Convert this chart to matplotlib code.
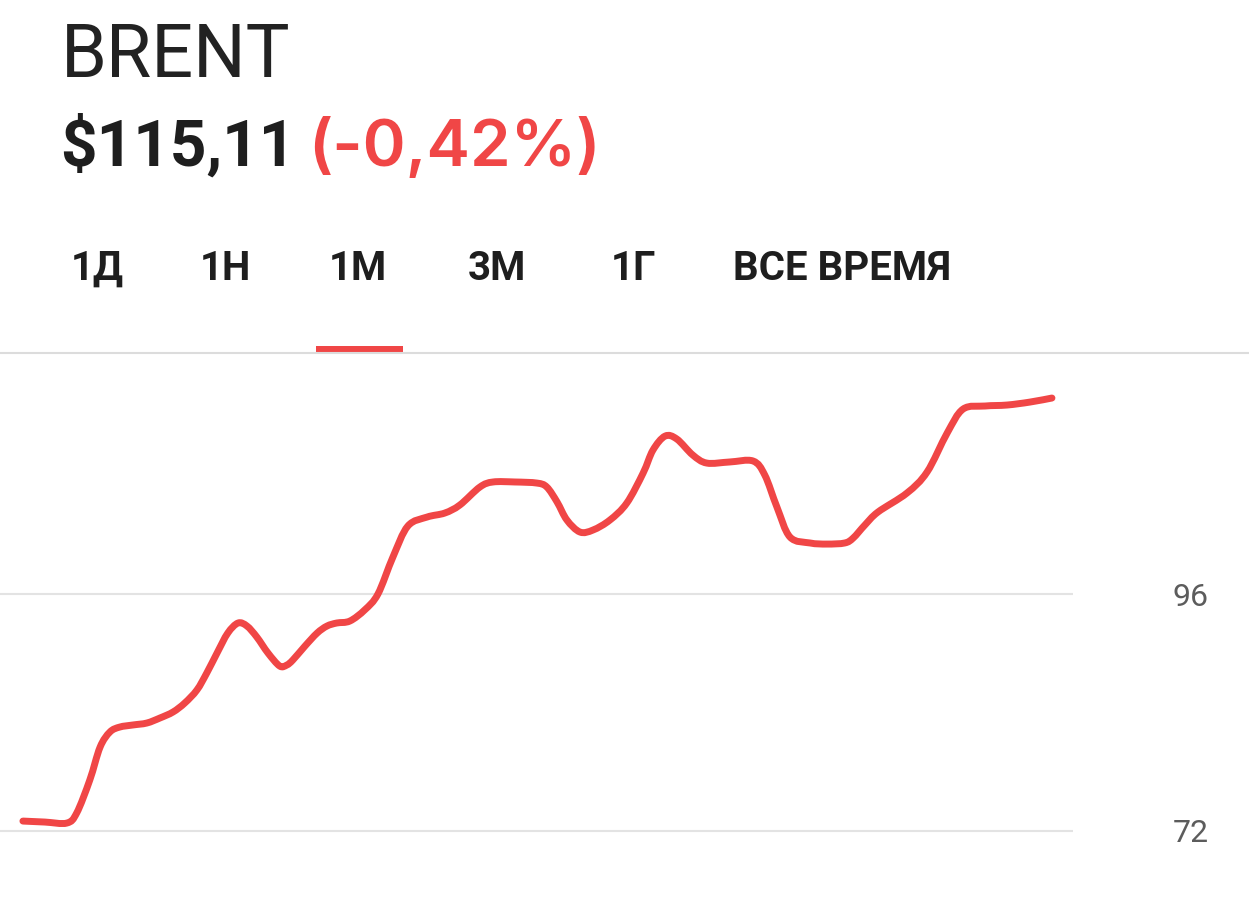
import matplotlib
matplotlib.use("Agg")
import matplotlib.pyplot as plt
from matplotlib.lines import Line2D
from matplotlib.patches import Rectangle, PathPatch
from matplotlib.path import Path

# brent price over one month
days = [0.00, 0.47, 0.94, 1.15, 1.43, 1.65, 1.86, 2.07, 2.35, 2.65, 2.93, 3.21,
        3.46, 3.72, 3.93, 4.15, 4.38, 4.60, 4.79, 5.00, 5.24, 5.49, 5.64, 5.77,
        6.03, 6.29, 6.50, 6.71, 6.99, 7.31, 7.59, 7.91, 8.23, 8.64,
        9.02, 9.34, 9.77, 10.05, 10.52, 10.99, 11.20, 11.42, 11.63, 11.91, 12.19,
        12.55, 12.91, 13.26, 13.47, 13.73, 13.98, 14.32, 14.62, 15.11, 15.61,
        15.86, 16.12, 16.40, 16.83, 17.19, 17.57, 17.75, 18.00, 18.28,
        18.90, 19.33, 19.76, 20.10, 20.57, 21.04, 21.53, 22.00]
price = [72.96, 72.86, 72.76, 73.78, 77.13, 80.47, 82.00, 82.50, 82.71, 82.91,
         83.42, 84.03, 84.94, 86.26, 87.98, 90.01, 92.04, 93.06, 92.75, 91.64,
         90.01, 88.69, 88.79, 89.30, 90.72, 92.04, 92.75, 93.06, 93.26, 94.40,
         96.00, 99.75, 102.90, 103.81, 104.22, 105.03, 106.86,
         107.37, 107.37, 107.26, 106.86, 105.34, 103.51, 102.29, 102.50, 103.51,
         105.23, 108.28, 110.61, 112.03, 111.73, 110.11, 109.29, 109.40, 109.50,
         108.08, 104.83, 101.78, 101.18, 101.07, 101.18, 101.68, 103.00,
         104.32, 106.25, 108.38, 112.34, 114.77, 115.08, 115.18, 115.48, 115.89]
y_ticks = [72, 96]

tabs = ["1Д", "1Н", "1М", "3М", "1Г", "ВСЕ ВРЕМЯ"]
tab_x = [97, 225, 358, 497, 634, 842]  # centres in px

RED = "#F04646"
W, H = 1249, 914

fig = plt.figure(figsize=(W / 100, H / 100), dpi=100)
fig.patch.set_facecolor("white")

def fx(px):
    return px / W

def fy(py):
    return 1 - py / H

def smooth_path(xs, ys):
    # catmull-rom through the points, handed to matplotlib as bezier segments
    verts = [(xs[0], ys[0])]
    codes = [Path.MOVETO]
    n = len(xs)
    for i in range(n - 1):
        x0, y0 = (xs[i - 1], ys[i - 1]) if i > 0 else (xs[i], ys[i])
        x1, y1 = xs[i], ys[i]
        x2, y2 = xs[i + 1], ys[i + 1]
        x3, y3 = (xs[i + 2], ys[i + 2]) if i + 2 < n else (x2, y2)
        verts += [(x1 + (x2 - x0) / 6, y1 + (y2 - y0) / 6),
                  (x2 - (x3 - x1) / 6, y2 - (y3 - y1) / 6),
                  (x2, y2)]
        codes += [Path.CURVE4] * 3
    return Path(verts, codes)

## header
fig.text(fx(61), fy(77), "BRENT", fontsize=53, family="Roboto", weight="normal",
         color="#222222", va="baseline")
fig.text(fx(60), fy(166), "$115,11", fontsize=46, family="Roboto", weight="bold",
         color="#1e1e1e", va="baseline")
fig.text(fx(308), fy(166), "(-0,42%)", fontsize=47, family="Inter", weight="semibold",
         color=RED, va="baseline")

## period tabs
for label, cx in zip(tabs, tab_x):
    fig.text(fx(cx), fy(280), label, fontsize=29, family="Roboto", weight="bold",
             color="#1e1e1e", ha="center", va="baseline")

fig.add_artist(Line2D([0, 1], [fy(353), fy(353)], color="#dcdcdc", lw=1.5))
fig.add_artist(Rectangle((fx(316), fy(354)), fx(403) - fx(316), 8 / H,
                         color=RED, lw=0))

## chart
ax = fig.add_axes([0, fy(880), fx(1073), (880 - 353) / H])
ax.add_patch(PathPatch(smooth_path(days, price), facecolor="none", edgecolor=RED,
                       lw=5, capstyle="round", joinstyle="round", zorder=3))
ax.set_xlim(-0.49, 22.45)
ax.set_ylim(66.98, 120.46)
ax.set_yticks(y_ticks)
ax.set_xticks([])
ax.yaxis.tick_right()
ax.tick_params(axis="y", length=0, pad=72, labelsize=23, labelcolor="#5c5c5c")
for lab in ax.get_yticklabels():
    lab.set_family("Roboto")
ax.grid(axis="y", color="#e3e3e3", lw=1.5)
for s in ax.spines.values():
    s.set_visible(False)
ax.set_facecolor("none")

plt.savefig("out.png", dpi=100, facecolor="white")
